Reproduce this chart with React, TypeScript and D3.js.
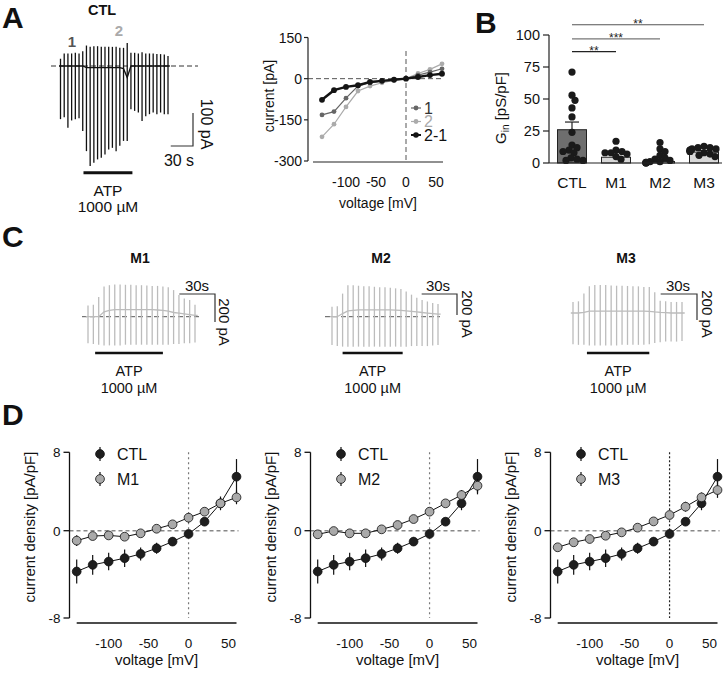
import React from "react";
import * as d3 from "d3";

const FONT = "'Liberation Sans', Arial, Helvetica, sans-serif";

// ---------------- Panel A: CTL current trace (pA, spike-by-spike) ----------------
const ctlUp = [22, 38, 38, 38, 40, 38, 45, 62, 58, 60, 60, 58, 58, 58, 58, 58, 55, 55, 70, 40, 40, 38, 42, 38, 38, 38, 36, 36, 35, 30];
const ctlDown = [-161, -155, -187, -165, -161, -158, -197, -258, -303, -293, -283, -278, -268, -253, -248, -258, -242, -227, -227, -131, -136, -141, -167, -152, -146, -141, -146, -141, -146, -146];
const ctlHold = [0, 0, 0, 0, 0, 0, 0, -5, -5, -5, -5, -5, -5, -5, -5, -5, -5, -8, -35, 0, 0, 0, 0, 0, 0, 0, 0, 0, 0, 0];
const ctlATP = [31, 97]; // s

// ---------------- Panel A: I-V ----------------
const ivVoltages = [-140, -120, -100, -80, -60, -40, -20, 0, 20, 40, 60];
const iv1 = [-132, -120, -71, -27, -15, -8.5, -4, 0, 13, 24, 36];
const iv2 = [-212, -166, -103, -45, -27, -15, -6, 0, 19, 34, 54];
const iv21 = [-77, -42, -30, -24, -12, -8, -4, 0, 6, 13, 18];
const ivYTicks = [150, 0, -150, -300];
const ivXTicks = [-100, -50, 0, 50];

// ---------------- Panel B: G_in ----------------
const gCategories = ["CTL", "M1", "M2", "M3"];
const gMeans = [26, 4.5, 1.2, 8.5];
const gSem = [6, 3.8, 1.8, 1.2];
const gCTL = [71, 53, 49, 43, 36, 24, 14, 12, 10, 9, 8, 4, 3, 2, 2];
const gM1 = [17, 10, 9, 8, 8, 7, 5, 3];
const gM2 = [16, 11, 9, 6, 4, 3, 2, 1, 1, 0.5, 0.5, 0, 0, 0];
const gM3 = [13, 12, 12, 11, 11, 10, 10, 9, 9, 8, 7, 6, 5];
const gYTicks = [0, 25, 50, 75, 100];
const sigLabels = ["**", "***", "**"];

// ---------------- Panel C: mutant traces ----------------
const m1Up = [80, 85, 140, 215, 225, 230, 230, 228, 228, 225, 225, 222, 220, 220, 215, 210, 190, 155, 130, 120, 85];
const m1Down = [-190, -195, -200, -205, -205, -205, -205, -200, -200, -200, -200, -200, -200, -200, -200, -200, -195, -195, -190, -190, -185];
const m1Hold = [0, 0, 0, 35, 45, 50, 50, 50, 50, 50, 50, 50, 50, 48, 45, 40, 30, 25, 20, 15, 10];
const m1ATP = [6, 63];

const m2Up = [95, 100, 220, 300, 300, 295, 290, 290, 285, 280, 280, 275, 270, 265, 240, 210, 180, 160, 145, 130, 120];
const m2Down = [-270, -280, -285, -285, -285, -285, -285, -285, -285, -285, -285, -285, -285, -285, -285, -280, -280, -280, -280, -275, -270];
const m2Hold = [0, 0, 30, 55, 60, 65, 65, 65, 65, 65, 65, 65, 62, 60, 55, 50, 45, 40, 35, 30, 25];
const m2ATP = [9, 60];

const m3Up = [85, 90, 150, 205, 215, 215, 215, 212, 210, 210, 208, 205, 205, 200, 200, 160, 95, 90, 85, 85, 85];
const m3Down = [-240, -245, -245, -250, -250, -250, -250, -250, -250, -245, -245, -245, -245, -245, -240, -230, -225, -220, -220, -220, -215];
const m3Hold = [0, 0, 5, 15, 15, 15, 15, 15, 15, 15, 15, 15, 15, 15, 12, 8, 5, 3, 0, 0, 0];
const m3ATP = [11.5, 63];

// ---------------- Panel D: current density ----------------
const dVoltages = [-140, -120, -100, -80, -60, -40, -20, 0, 20, 40, 60];
const dCTL = [-3.74, -3.13, -2.83, -2.52, -2.13, -1.61, -1.0, -0.3, 0.92, 2.79, 5.51];
const dCTLErr = [1.1, 0.9, 0.8, 0.8, 0.6, 0.5, 0.4, 0.3, 0.4, 0.7, 1.8];
const dM1 = [-0.91, -0.49, -0.43, -0.55, -0.24, 0.2, 0.65, 1.33, 1.94, 2.79, 3.4];
const dM1Err = [0.5, 0.3, 0.3, 0.3, 0.3, 0.3, 0.3, 0.5, 0.4, 0.5, 0.7];
const dM2 = [-0.33, -0.03, -0.24, -0.24, 0.14, 0.58, 1.19, 1.94, 2.79, 3.64, 4.59];
const dM2Err = [0.3, 0.2, 0.2, 0.2, 0.2, 0.2, 0.3, 0.3, 0.3, 0.5, 0.7];
const dM3 = [-1.52, -1.06, -0.76, -0.46, -0.15, 0.31, 0.95, 1.6, 2.45, 3.4, 4.15];
const dM3Err = [0.3, 0.3, 0.3, 0.3, 0.3, 0.3, 0.3, 0.4, 0.5, 0.5, 0.8];
const dYTicks = [8, 0, -8];
const dXTicks = [-100, -50, 0, 50];

// ======================================================================
type TraceProps = {
  up: number[]; down: number[]; hold: number[]; atp: number[];
  dt: number; x0: number; x1: number; y0: number; pxPerPA: number;
  color: string; sw: number;
  base?: [number, number]; baseColor?: string;
  atpY: number; atpW: number; atpFs: number; atpTextY: number; concY: number;
  sbCorner: [number, number]; sbT: number; sbI: number; sbDown?: boolean;
  tLabel: string; tLabelPos: [number, number];
  iLabel: string; iLabelPos: [number, number]; sbFs: number;
};

function SpikeTrace(p: TraceProps) {
  const n = p.up.length;
  const tx = d3.scaleLinear().domain([0, (n - 1) * p.dt]).range([p.x0, p.x1]);
  const iy = d3.scaleLinear().domain([0, 1]).range([p.y0, p.y0 - p.pxPerPA]);
  const holdPts: [number, number][] = [[tx(-p.dt * 0.4), iy(p.hold[0])]];
  p.hold.forEach((h, i) => holdPts.push([tx(i * p.dt), iy(h)]));
  holdPts.push([tx((n - 1) * p.dt + p.dt * 0.5), iy(p.hold[n - 1])]);
  const sbW = tx(p.sbT) - tx(0);
  const sbH = iy(0) - iy(p.sbI);
  const [cx, cy] = p.sbCorner;
  const vEnd = p.sbDown ? cy + sbH : cy - sbH;
  return (
    <g>
      {p.base && (
        <line x1={p.base[0]} x2={p.base[1]} y1={iy(0)} y2={iy(0)} stroke={p.baseColor || "#333"} strokeWidth={1} strokeDasharray="5 3" />
      )}
      <path d={d3.line()(holdPts) || ""} fill="none" stroke={p.color} strokeWidth={p.sw} />
      {p.up.map((u, i) => (
        <line key={i} x1={tx(i * p.dt)} x2={tx(i * p.dt)} y1={iy(u)} y2={iy(p.down[i])} stroke={p.color} strokeWidth={p.sw} />
      ))}
      <line x1={tx(p.atp[0])} x2={tx(p.atp[1])} y1={p.atpY} y2={p.atpY} stroke="#111" strokeWidth={p.atpW} />
      <text x={(tx(p.atp[0]) + tx(p.atp[1])) / 2} y={p.atpTextY} textAnchor="middle" fontSize={p.atpFs} fill="#111">ATP</text>
      <text x={(tx(p.atp[0]) + tx(p.atp[1])) / 2} y={p.concY} textAnchor="middle" fontSize={p.atpFs} fill="#111">1000 µM</text>
      <path d={`M${cx - sbW},${cy}H${cx}V${vEnd}`} fill="none" stroke="#333" strokeWidth={1.2} />
      <text x={p.tLabelPos[0]} y={p.tLabelPos[1]} textAnchor="middle" fontSize={p.sbFs} fill="#111">{p.tLabel}</text>
      <text transform={`translate(${p.iLabelPos[0]},${p.iLabelPos[1]}) rotate(90)`} textAnchor="middle" fontSize={p.sbFs} fill="#111">{p.iLabel}</text>
    </g>
  );
}

function IVPlotA() {
  const x = d3.scaleLinear().domain([-155, 60]).range([313, 442]);
  const y = d3.scaleLinear().domain([-300, 150]).range([161, 37.5]);
  const line = d3.line<number>().x((_, i) => x(ivVoltages[i])).y((d) => y(d));
  const series = [
    { vals: iv2, color: "#ababab", sw: 1.2, r: 2.4 },
    { vals: iv1, color: "#666666", sw: 1.2, r: 2.4 },
    { vals: iv21, color: "#141414", sw: 2.4, r: 2.9 },
  ];
  const legend = [
    { label: "1", color: "#666666", sw: 1.2, r: 2.4, color2: "#333" },
    { label: "2", color: "#ababab", sw: 1.2, r: 2.4, color2: "#ababab" },
    { label: "2-1", color: "#141414", sw: 2.0, r: 2.8, color2: "#111" },
  ];
  const axisX = 308;
  return (
    <g>
      <line x1={axisX} x2={443} y1={y(0)} y2={y(0)} stroke="#555" strokeDasharray="5 3" strokeWidth={1} />
      <line x1={x(0)} x2={x(0)} y1={51} y2={162} stroke="#555" strokeDasharray="5 3" strokeWidth={1} />
      {series.map((s, k) => (
        <g key={k}>
          <path d={line(s.vals) || ""} fill="none" stroke={s.color} strokeWidth={s.sw} />
          {s.vals.map((v, i) => (
            <circle key={i} cx={x(ivVoltages[i])} cy={y(v)} r={s.r} fill={s.color} />
          ))}
        </g>
      ))}
      <line x1={axisX} x2={axisX} y1={y(150)} y2={y(-300)} stroke="#222" strokeWidth={1.2} />
      {ivYTicks.map((t) => (
        <g key={t}>
          <line x1={axisX - 4} x2={axisX} y1={y(t)} y2={y(t)} stroke="#222" strokeWidth={1.2} />
          <text x={axisX - 6} y={y(t) + 5} textAnchor="end" fontSize={14} fill="#111">{t}</text>
        </g>
      ))}
      <line x1={313} x2={443} y1={162} y2={162} stroke="#222" strokeWidth={1.2} />
      {ivXTicks.map((t) => (
        <text key={t} x={x(t)} y={187} textAnchor="middle" fontSize={14} fill="#111">{t}</text>
      ))}
      <text x={378} y={208} textAnchor="middle" fontSize={14} fill="#111">voltage [mV]</text>
      <text transform="translate(274,96) rotate(-90)" textAnchor="middle" fontSize={14} fill="#111">current [pA]</text>
      {legend.map((l, i) => {
        const ly = 108 + i * 13.5;
        return (
          <g key={l.label}>
            <line x1={411} x2={421} y1={ly} y2={ly} stroke={l.color} strokeWidth={l.sw} />
            <circle cx={416} cy={ly} r={l.r} fill={l.color} />
            <text x={424} y={ly + 5.5} fontSize={16} fill={l.color2}>{l.label}</text>
          </g>
        );
      })}
    </g>
  );
}

function swarm(values: number[], yS: (v: number) => number, cx: number, r: number, maxOff: number) {
  const placed: { x: number; y: number }[] = [];
  const order = values.map((v, i) => ({ v, i })).sort((a, b) => b.v - a.v);
  const minD = r * 1.55;
  for (const { v } of order) {
    const py = yS(v);
    let best = 0;
    for (let k = 0; k <= 2 * maxOff; k++) {
      const off = k === 0 ? 0 : (k % 2 ? 1 : -1) * Math.ceil(k / 2);
      const ok = placed.every((p) => (p.x - (cx + off)) ** 2 + (p.y - py) ** 2 >= minD * minD);
      best = off;
      if (ok) break;
    }
    placed.push({ x: cx + best, y: py });
  }
  return placed;
}

function PanelB() {
  const y = d3.scaleLinear().domain([0, 100]).range([163, 35]);
  const x = d3.scalePoint<string>().domain(gCategories).range([550, 726]).padding(0.5);
  const groups = [gCTL, gM1, gM2, gM3];
  const barW = 29;
  const axisX = 549;
  const sigY = [87, 97, 108];
  const sigColors = ["#222", "#777", "#555"];
  return (
    <g>
      {gCategories.map((c, i) => (
        <g key={c}>
          <rect x={x(c)! - barW / 2} y={y(gMeans[i])} width={barW} height={y(0) - y(gMeans[i])} fill={i === 0 ? "#6e6e6e" : "#d8d8d8"} stroke="#222" strokeWidth={1} />
          <line x1={x(c)!} x2={x(c)!} y1={y(gMeans[i])} y2={y(gMeans[i] + gSem[i])} stroke="#222" strokeWidth={1.2} />
          <line x1={x(c)! - 7} x2={x(c)! + 7} y1={y(gMeans[i] + gSem[i])} y2={y(gMeans[i] + gSem[i])} stroke="#222" strokeWidth={1.2} />
        </g>
      ))}
      {groups.map((g, gi) =>
        swarm(g, y, x(gCategories[gi])!, 3.6, 14).map((p, i) => (
          <circle key={gi + "-" + i} cx={p.x} cy={p.y} r={3.6} fill="#1a1a1a" />
        ))
      )}
      <line x1={axisX} x2={axisX} y1={y(0)} y2={y(100)} stroke="#222" strokeWidth={1.2} />
      {gYTicks.map((t) => (
        <g key={t}>
          <line x1={axisX - 6} x2={axisX} y1={y(t)} y2={y(t)} stroke="#222" strokeWidth={1.2} />
          <text x={axisX - 9} y={y(t) + 5} textAnchor="end" fontSize={14.5} fill="#111">{t}</text>
        </g>
      ))}
      <line x1={axisX} x2={722} y1={y(0)} y2={y(0)} stroke="#222" strokeWidth={1.2} />
      {gCategories.map((c) => (
        <text key={c} x={x(c)!} y={188} textAnchor="middle" fontSize={15.5} fill="#111">{c}</text>
      ))}
      {sigLabels.map((s, i) => {
        const x1 = x(gCategories[0])!;
        const x2 = x(gCategories[i + 1])!;
        return (
          <g key={i}>
            <line x1={x1} x2={x2} y1={y(sigY[i])} y2={y(sigY[i])} stroke={sigColors[i]} strokeWidth={1.1} />
            <text x={(x1 + x2) / 2} y={y(sigY[i]) + 3} textAnchor="middle" fontSize={12} fill="#222">{s}</text>
          </g>
        );
      })}
      <text transform="translate(506,108) rotate(-90)" textAnchor="middle" fontSize={15} fill="#111">
        G<tspan fontSize={10} dy={3}>in</tspan><tspan dy={-3}> [pS/pF]</tspan>
      </text>
    </g>
  );
}

function DensityPanel(props: { off: number; label: string; vals: number[]; errs: number[]; vColor: string; vDash: string }) {
  const { off, label, vals, errs } = props;
  const x = d3.scaleLinear().domain([-140, 60]).range([76.7 + off, 236.5 + off]);
  const y = d3.scaleLinear().domain([-8, 0, 8]).range([618, 530.7, 452.3]);
  const axisX = 69.5 + off;
  const line = d3.line<number>().x((_, i) => x(dVoltages[i])).y((d) => y(d));
  const sets = [
    { vals: dCTL, errs: dCTLErr, fill: "#1e1e1e" },
    { vals, errs, fill: "#a9a9a9" },
  ];
  return (
    <g>
      <line x1={axisX} x2={x(60) + 2} y1={y(0)} y2={y(0)} stroke="#888" strokeWidth={1.4} strokeDasharray="4 3" />
      <line x1={x(0)} x2={x(0)} y1={y(8)} y2={y(-8)} stroke={props.vColor} strokeWidth={1.2} strokeDasharray={props.vDash} />
      {sets.map((s, k) => (
        <g key={k}>
          {s.vals.map((v, i) => (
            <line key={i} x1={x(dVoltages[i])} x2={x(dVoltages[i])} y1={y(v - s.errs[i])} y2={y(v + s.errs[i])} stroke="#111" strokeWidth={1.2} />
          ))}
          <path d={line(s.vals) || ""} fill="none" stroke="#111" strokeWidth={1} />
          {s.vals.map((v, i) => (
            <circle key={i} cx={x(dVoltages[i])} cy={y(v)} r={4.4} fill={s.fill} stroke="#111" strokeWidth={0.8} />
          ))}
        </g>
      ))}
      <line x1={axisX} x2={axisX} y1={y(8)} y2={y(-8)} stroke="#111" strokeWidth={1.3} />
      {dYTicks.map((t) => (
        <g key={t}>
          <line x1={axisX - 6} x2={axisX} y1={y(t)} y2={y(t)} stroke="#111" strokeWidth={1.3} />
          <text x={axisX - 9} y={y(t) + 5} textAnchor="end" fontSize={13.5} fill="#111">{t}</text>
        </g>
      ))}
      <line x1={x(-140)} x2={x(60)} y1={623} y2={623} stroke="#111" strokeWidth={1.4} />
      {dXTicks.map((t) => (
        <text key={t} x={x(t)} y={647.5} textAnchor="middle" fontSize={13.5} fill="#111">{t}</text>
      ))}
      <text x={(x(-140) + x(60)) / 2} y={665} textAnchor="middle" fontSize={15} fill="#111">voltage [mV]</text>
      <text transform={`translate(${35 + off},527) rotate(-90)`} textAnchor="middle" fontSize={15} fill="#111">current density [pA/pF]</text>
      {[{ t: "CTL", fill: "#1e1e1e", ly: 454 }, { t: label, fill: "#a9a9a9", ly: 479 }].map((l) => (
        <g key={l.t}>
          <line x1={100 + off} x2={100 + off} y1={l.ly - 7} y2={l.ly + 7} stroke="#111" strokeWidth={1.2} />
          <circle cx={100 + off} cy={l.ly} r={4.4} fill={l.fill} stroke="#111" strokeWidth={0.8} />
          <text x={117 + off} y={l.ly + 5.5} fontSize={16} fill="#111">{l.t}</text>
        </g>
      ))}
    </g>
  );
}

export default function App() {
  const common = { atpW: 2.6, sbFs: 15, sbDown: true };
  return (
    <div style={{ position: "absolute", left: 0, top: 0 }}>
      <svg width={725} height={673} style={{ display: "block", background: "#fff" }} fontFamily={FONT}>
        {/* Panel letters */}
        <text x={2} y={28} fontSize={30} fontWeight="bold" fill="#111">A</text>
        <text x={475} y={33} fontSize={30} fontWeight="bold" fill="#111">B</text>
        <text x={2} y={247} fontSize={30} fontWeight="bold" fill="#111">C</text>
        <text x={2} y={425} fontSize={30} fontWeight="bold" fill="#111">D</text>

        {/* Panel A trace */}
        <text x={102} y={15} textAnchor="middle" fontSize={14.5} fontWeight="bold" fill="#111">CTL</text>
        <text x={72} y={47} textAnchor="middle" fontSize={15} fontWeight="bold" fill="#555">1</text>
        <text x={119} y={36} textAnchor="middle" fontSize={15} fontWeight="bold" fill="#aaa">2</text>
        <SpikeTrace
          up={ctlUp} down={ctlDown} hold={ctlHold} atp={ctlATP}
          dt={5} x0={60.5} x1={168} y0={66} pxPerPA={0.33}
          color="#111" sw={1.3} base={[51, 198]} baseColor="#333"
          atpY={172.7} atpW={3} atpFs={15.5} atpTextY={196} concY={212}
          sbCorner={[193, 146]} sbT={30} sbI={100}
          tLabel="30 s" tLabelPos={[179, 166]} iLabel="100 pA" iLabelPos={[201, 124]} sbFs={16}
        />

        <IVPlotA />
        <PanelB />

        {/* Panel C */}
        <text x={140} y={263} textAnchor="middle" fontSize={14} fontWeight="bold" fill="#111">M1</text>
        <text x={381} y={263} textAnchor="middle" fontSize={14} fontWeight="bold" fill="#111">M2</text>
        <text x={626} y={263} textAnchor="middle" fontSize={14} fontWeight="bold" fill="#111">M3</text>
        <SpikeTrace
          up={m1Up} down={m1Down} hold={m1Hold} atp={m1ATP}
          dt={4.5} x0={88} x1={195} y0={316.7} pxPerPA={0.14}
          color="#bcbcbc" sw={1.3} base={[82, 200]} baseColor="#555"
          atpY={353} atpFs={14.5} atpTextY={376} concY={393}
          sbCorner={[215, 294]} sbT={30} sbI={200}
          tLabel="30s" tLabelPos={[197, 291]} iLabel="200 pA" iLabelPos={[219, 322]} {...common}
        />
        <SpikeTrace
          up={m2Up} down={m2Down} hold={m2Hold} atp={m2ATP}
          dt={4.5} x0={332} x1={438} y0={316.7} pxPerPA={0.105}
          color="#bcbcbc" sw={1.3} base={[325, 440]} baseColor="#555"
          atpY={353} atpFs={14.5} atpTextY={376} concY={393}
          sbCorner={[457, 294]} sbT={30} sbI={200}
          tLabel="30s" tLabelPos={[438, 291]} iLabel="200 pA" iLabelPos={[462, 314]} {...common}
        />
        <SpikeTrace
          up={m3Up} down={m3Down} hold={m3Hold} atp={m3ATP}
          dt={4.5} x0={573} x1={682} y0={313} pxPerPA={0.13}
          color="#bcbcbc" sw={1.3}
          atpY={353} atpFs={14.5} atpTextY={376} concY={393}
          sbCorner={[697, 294]} sbT={30} sbI={200}
          tLabel="30s" tLabelPos={[678, 291]} iLabel="200 pA" iLabelPos={[702, 314]} {...common}
        />

        {/* Panel D */}
        <DensityPanel off={0} label="M1" vals={dM1} errs={dM1Err} vColor="#777" vDash="2 3" />
        <DensityPanel off={241} label="M2" vals={dM2} errs={dM2Err} vColor="#777" vDash="2 3" />
        <DensityPanel off={481} label="M3" vals={dM3} errs={dM3Err} vColor="#222" vDash="2 2" />
      </svg>
    </div>
  );
}
